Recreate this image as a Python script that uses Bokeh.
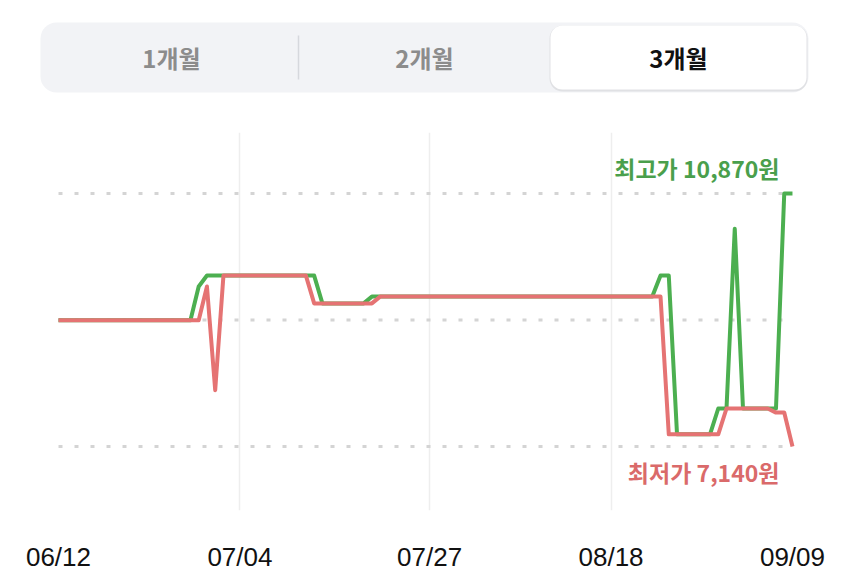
import pandas as pd
from bokeh.plotting import figure
from bokeh.layouts import column
from bokeh.models import Range1d, BoxAnnotation, Label, FixedTicker, DatetimeTickFormatter
from bokeh.core.properties import value
from bokeh.embed import file_html
from bokeh.resources import INLINE

# ---------------- data ----------------
start_date = "2024-06-12"
tab_labels = ["1개월", "2개월", "3개월"]
tick_labels = ["06/12", "07/04", "07/27", "08/18", "09/09"]

high_prices = [
    9000, 9000, 9000, 9000, 9000, 9000, 9000, 9000, 9000, 9000,
    9000, 9000, 9000, 9000, 9000, 9000, 9000, 9500, 9660, 9660,
    9660, 9660, 9660, 9660, 9660, 9660, 9660, 9660, 9660, 9660,
    9660, 9660, 9250, 9250, 9250, 9250, 9250, 9250, 9350, 9350,
    9350, 9350, 9350, 9350, 9350, 9350, 9350, 9350, 9350, 9350,
    9350, 9350, 9350, 9350, 9350, 9350, 9350, 9350, 9350, 9350,
    9350, 9350, 9350, 9350, 9350, 9350, 9350, 9350, 9350, 9350,
    9350, 9350, 9350, 9660, 9660, 7320, 7320, 7320, 7320, 7320,
    7700, 7700, 10350, 7700, 7700, 7700, 7700, 7700, 10870, 10870,
]
low_prices = [
    9000, 9000, 9000, 9000, 9000, 9000, 9000, 9000, 9000, 9000,
    9000, 9000, 9000, 9000, 9000, 9000, 9000, 9000, 9500, 7970,
    9660, 9660, 9660, 9660, 9660, 9660, 9660, 9660, 9660, 9660,
    9660, 9250, 9250, 9250, 9250, 9250, 9250, 9250, 9250, 9350,
    9350, 9350, 9350, 9350, 9350, 9350, 9350, 9350, 9350, 9350,
    9350, 9350, 9350, 9350, 9350, 9350, 9350, 9350, 9350, 9350,
    9350, 9350, 9350, 9350, 9350, 9350, 9350, 9350, 9350, 9350,
    9350, 9350, 9350, 9350, 7320, 7320, 7320, 7320, 7320, 7320,
    7320, 7700, 7700, 7700, 7700, 7700, 7700, 7640, 7640, 7140,
]

# ---------------- derived ----------------
dates = pd.date_range(start_date, periods=len(high_prices), freq="D")
year = dates[0].year
tick_dates = [pd.Timestamp(f"{year}-{t.replace('/', '-')}") for t in tick_labels]
to_ms = lambda ts: ts.value // 10**6
tick_ms = [to_ms(t) for t in tick_dates]

hi = max(high_prices)
lo = min(low_prices)
mid = (hi + lo) / 2
levels = [lo, mid, hi]

GREEN = "#4caf50"
GREEN_TXT = "#4a9f4c"
RED = "#e57373"
RED_TXT = "#da6a6a"
KR = "Noto Sans CJK KR"

# ---------------- segmented control ----------------
top = figure(width=834, height=100, x_range=Range1d(0, 834), y_range=Range1d(100, 0),
             output_backend="svg", toolbar_location=None, min_border=0,
             x_axis_location=None, y_axis_location=None)
top.grid.visible = False
top.outline_line_color = None
top.background_fill_color = "white"
top.border_fill_color = "white"

top.add_layout(BoxAnnotation(left=40, right=808, top=22, bottom=92, fill_color="#f2f3f6",
                             fill_alpha=1, line_color=None, border_radius=16, level="underlay"))
top.add_layout(BoxAnnotation(left=549, right=807, top=25, bottom=91, fill_color="#000000",
                             fill_alpha=0.07, line_color=None, border_radius=13, level="underlay"))
top.add_layout(BoxAnnotation(left=550, right=806, top=25, bottom=89, fill_color="white",
                             fill_alpha=1, line_color=None, border_radius=12, level="underlay"))
top.segment(x0=[298], y0=[35], x1=[298], y1=[79], line_color="#d6d8dd", line_width=1.5)
top.text(x=[171, 424, 678], y=[57, 57, 57], text=tab_labels,
         text_align="center", text_baseline="middle",
         text_font=value(KR), text_font_style="bold", text_font_size="24px",
         text_color=["#8c8c8c", "#8c8c8c", "#111111"])

# ---------------- price chart ----------------
px_per_day = 8.247
px_per_won = 0.067828
x_start = dates[0] - pd.Timedelta(days=58 / px_per_day)
x_end = dates[0] + pd.Timedelta(days=(834 - 58) / px_per_day)
y_hi = hi + (193 - 132) / px_per_won
y_lo = hi - (510 - 193) / px_per_won

p = figure(width=834, height=474, x_axis_type="datetime",
           x_range=Range1d(x_start, x_end), y_range=Range1d(y_lo, y_hi),
           output_backend="svg", toolbar_location=None, y_axis_location=None,
           min_border_left=0, min_border_right=0, min_border_top=32, min_border_bottom=0)
p.outline_line_color = None
p.background_fill_color = "white"
p.border_fill_color = "white"

p.xaxis.ticker = FixedTicker(ticks=tick_ms)
p.xaxis.formatter = DatetimeTickFormatter(days="%m/%d", months="%m/%d", years="%m/%d",
                                          hours="%m/%d", minutes="%m/%d")
p.xaxis.axis_line_color = None
p.xaxis.major_tick_line_color = None
p.xaxis.minor_tick_line_color = None
p.xaxis.major_label_standoff = 25
p.xaxis.major_label_text_font = "Liberation Sans"
p.xaxis.major_label_text_font_size = "26px"
p.xaxis.major_label_text_color = "#111111"

p.ygrid.visible = False
p.xgrid.ticker = FixedTicker(ticks=tick_ms[1:-1])
p.xgrid.grid_line_color = "#eeeeee"
p.xgrid.grid_line_width = 1.5

p.segment(x0=[dates[0]] * 3, x1=[dates[-1]] * 3, y0=levels, y1=levels,
          line_color="#d4d4d4", line_width=3, line_dash="4 12")

p.line(dates, high_prices, line_color=GREEN, line_width=4, line_join="round")
p.line(dates, low_prices, line_color=RED, line_width=4, line_join="round")

p.add_layout(Label(x=to_ms(dates[-1]), y=hi, text=f"최고가 {hi:,}원", x_offset=-13, y_offset=26,
                   text_align="right", text_baseline="middle", text_font=KR,
                   text_font_style="bold", text_font_size="23px", text_color=GREEN_TXT))
p.add_layout(Label(x=to_ms(dates[-1]), y=lo, text=f"최저가 {lo:,}원", x_offset=-13, y_offset=-26,
                   text_align="right", text_baseline="middle", text_font=KR,
                   text_font_style="bold", text_font_size="23px", text_color=RED_TXT))

layout = column(top, p, spacing=0)
open("out.html", "w").write(file_html(layout, INLINE))
